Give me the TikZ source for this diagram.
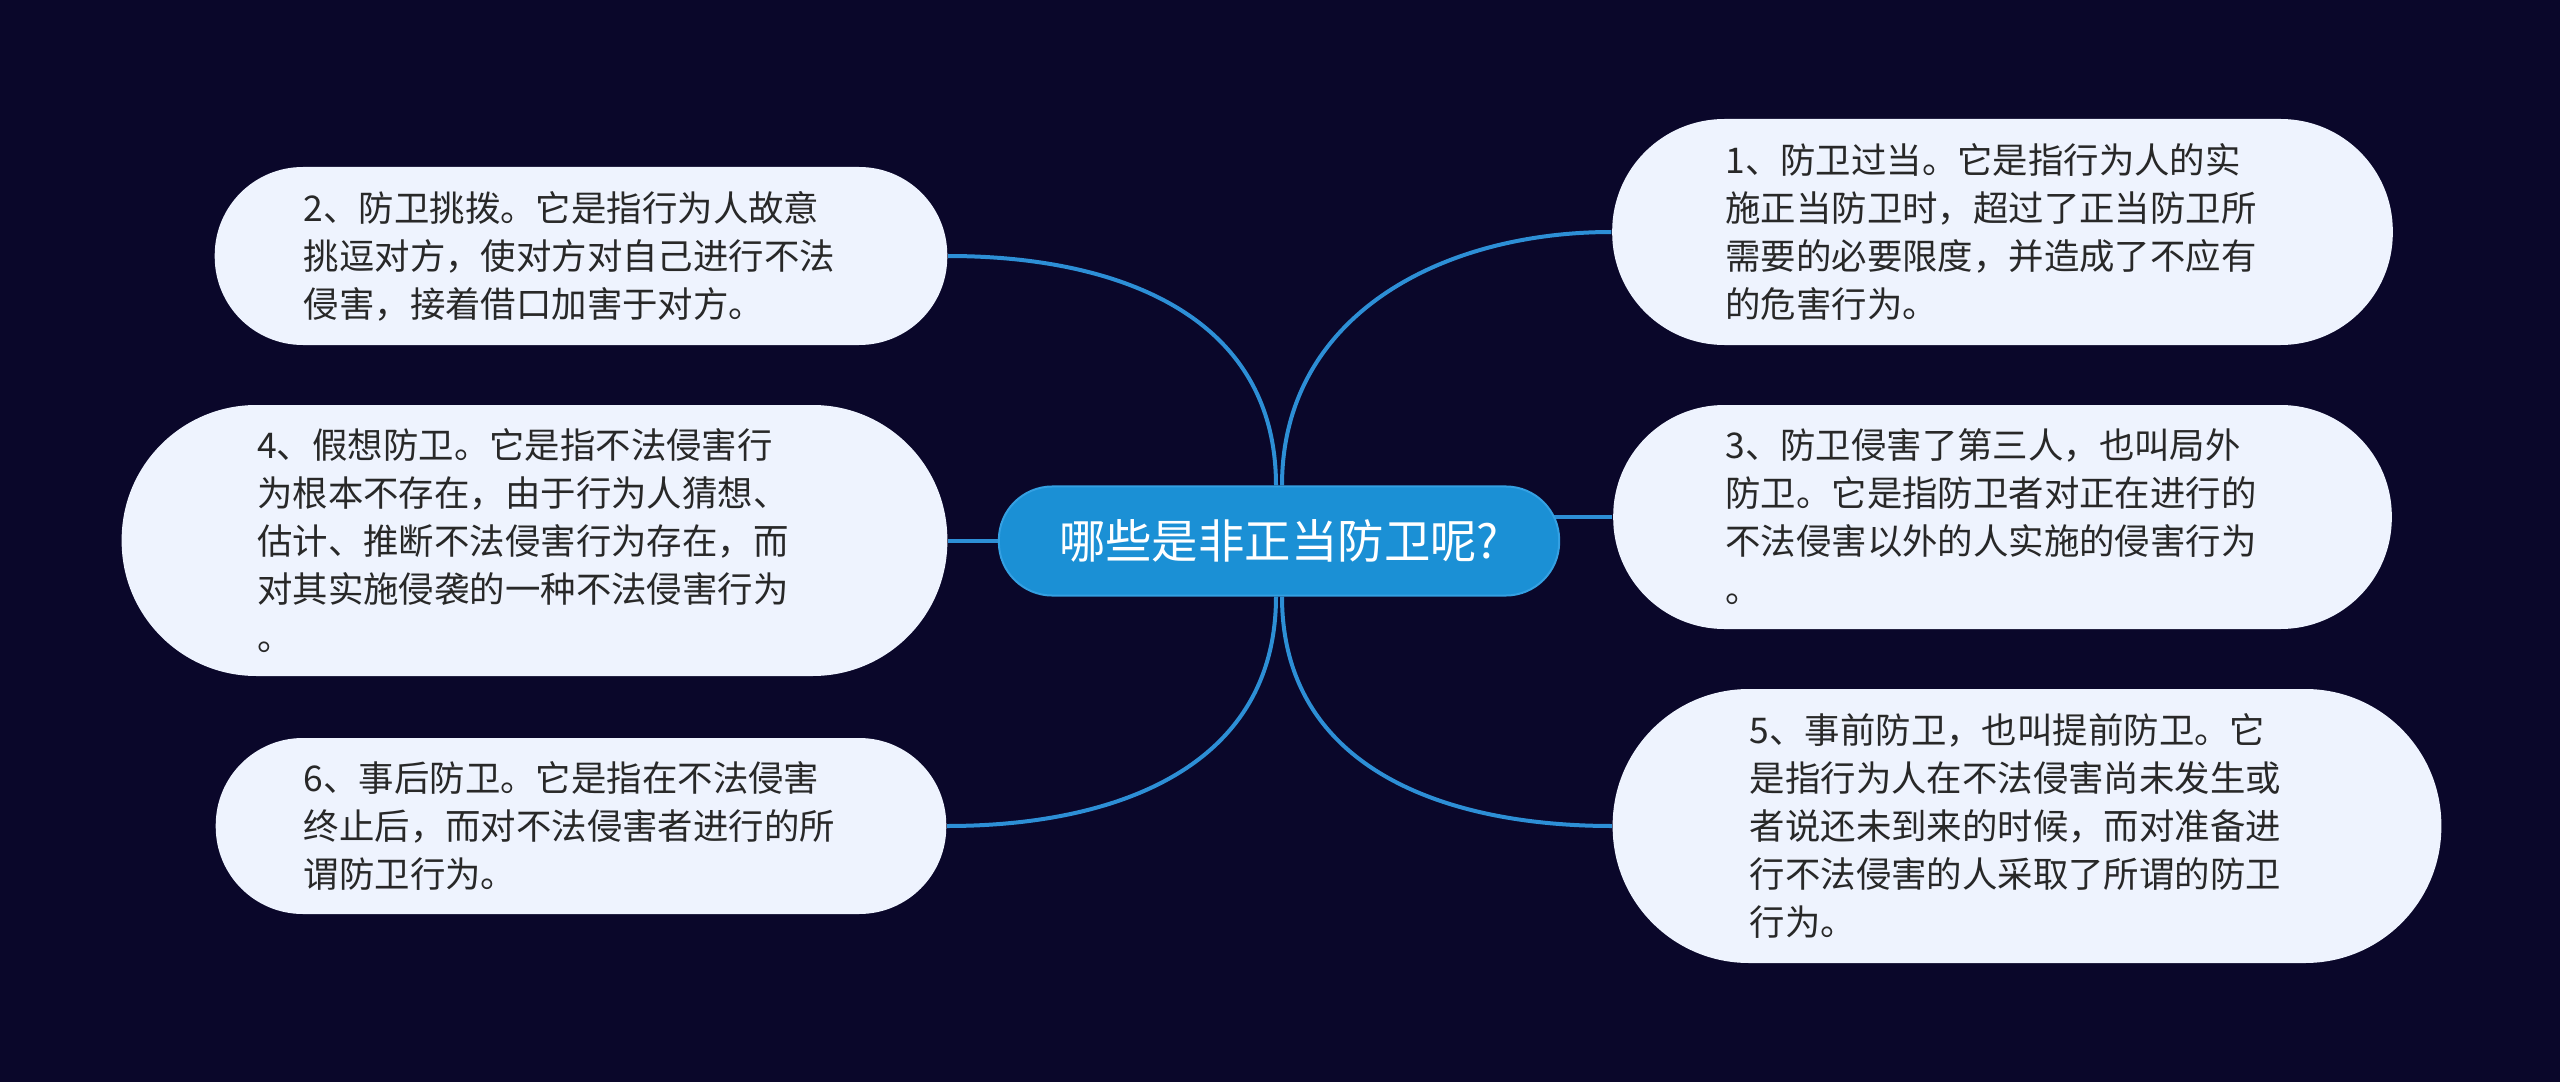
\documentclass[tikz,border=0pt]{standalone}
\usepackage{fontspec}
\newfontfamily\cjk{Noto Sans CJK SC}
\definecolor{bgcol}{RGB}{10,7,42}
\definecolor{leaffill}{RGB}{238,243,254}
\definecolor{leaftext}{RGB}{40,40,40}
\definecolor{rootfill}{RGB}{27,144,213}
\definecolor{rootedge}{RGB}{52,160,226}
\definecolor{linkcol}{RGB}{45,143,214}
\pgfdeclarelayer{bglayer}
\pgfdeclarelayer{linklayer}
\pgfsetlayers{bglayer,linklayer,main}
\begin{document}
\begin{tikzpicture}[x=0.01cm, y=-0.01cm,
  leaf/.style={rectangle, fill=leaffill, text=leaftext, text width=5.54cm,
    align=left, inner ysep=2pt, minimum height=#1*0.01cm,
    inner xsep=#1*0.005cm, rounded corners=#1*0.005cm-0.01cm,
    font=\cjk\fontsize{10.07pt}{13.66pt}\selectfont},
  root/.style={rectangle, fill=rootfill, draw=rootedge, line width=0.02cm,
    text=white, minimum height=1.09cm, text width=4.51cm, align=center,
    inner xsep=0.545cm, inner ysep=2pt, rounded corners=0.535cm,
    font=\cjk\fontsize{13.2pt}{16pt}\selectfont},
  link/.style={draw=linkcol, line width=0.04cm}]
\begin{pgfonlayer}{bglayer}
\fill[bgcol] (0,0) rectangle (2560,1082);
\end{pgfonlayer}
\useasboundingbox (0,0) rectangle (2560,1082);

\node[root] (c) at (1279,541) {哪些是非正当防卫呢?};

\node[leaf=178] (n2) at (581,256)
  {2、防卫挑拨。它是指行为人故意\\挑逗对方，使对方对自己进行不法\\侵害，接着借口加害于对方。};
\node[leaf=271] (n4) at (534.5,540.5)
  {4、假想防卫。它是指不法侵害行\\为根本不存在，由于行为人猜想、\\估计、推断不法侵害行为存在，而\\对其实施侵袭的一种不法侵害行为\\。};
\node[leaf=176] (n6) at (581,826)
  {6、事后防卫。它是指在不法侵害\\终止后，而对不法侵害者进行的所\\谓防卫行为。};
\node[leaf=226] (n1) at (2002.5,232)
  {1、防卫过当。它是指行为人的实\\施正当防卫时，超过了正当防卫所\\需要的必要限度，并造成了不应有\\的危害行为。};
\node[leaf=224] (n3) at (2002.5,517)
  {3、防卫侵害了第三人，也叫局外\\防卫。它是指防卫者对正在进行的\\不法侵害以外的人实施的侵害行为\\。};
\node[leaf=274] (n5) at (2027,826)
  {5、事前防卫，也叫提前防卫。它\\是指行为人在不法侵害尚未发生或\\者说还未到来的时候，而对准备进\\行不法侵害的人采取了所谓的防卫\\行为。};

\begin{pgfonlayer}{linklayer}
\draw[link] ([xshift=-0.03cm]c.north) .. controls ([xshift=-0.03cm,yshift=1.7cm]c.north) and ([xshift=1.7cm]n2.east) .. (n2.east);
\draw[link] ([xshift=0.03cm]c.north) .. controls ([xshift=0.03cm,yshift=1.7cm]c.north) and ([xshift=-1.7cm]n1.west) .. (n1.west);
\draw[link] ([xshift=-0.03cm]c.south) .. controls ([xshift=-0.03cm,yshift=-1.7cm]c.south) and ([xshift=1.7cm]n6.east) .. (n6.east);
\draw[link] ([xshift=0.03cm]c.south) .. controls ([xshift=0.03cm,yshift=-1.7cm]c.south) and ([xshift=-1.7cm]n5.west) .. (n5.west);
\draw[link] (c.center |- n4.east) -- (n4.east);
\draw[link] (c.center |- n3.west) -- (n3.west);
\end{pgfonlayer}
\end{tikzpicture}
\end{document}
